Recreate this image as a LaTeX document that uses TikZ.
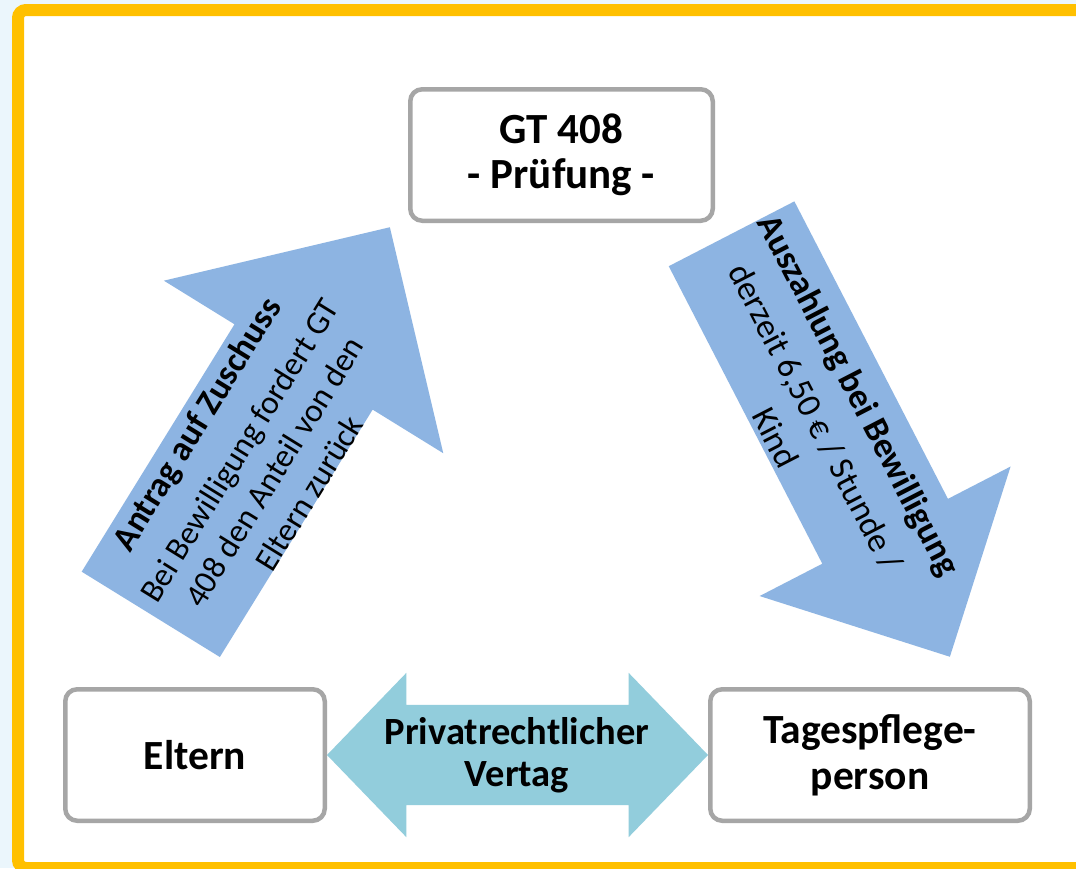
\documentclass[tikz,border=0pt]{standalone}
\usepackage{fontspec}
\setmainfont{Carlito}
\usepackage{tikz}
\usetikzlibrary{shapes.arrows}

\definecolor{framegelb}{HTML}{FFC000}
\definecolor{hintergrund}{HTML}{EBF6FC}
\definecolor{boxgrau}{HTML}{A6A6A6}
\definecolor{pfeilblau}{HTML}{8DB4E2}
\definecolor{vertragblau}{HTML}{92CDDC}

\begin{document}
\begin{tikzpicture}[x=1pt, y=-1pt,
			box/.style={draw=boxgrau, line width=4.5pt, rounded corners=12pt, fill=white,
				align=center, inner sep=0pt, minimum height=131.5pt,
				font=\fontsize{41.5}{46}\selectfont\bfseries},
			pfeil/.style={single arrow, fill=pfeilblau, inner xsep=0pt, single arrow tip angle=90},
			pfeiltext/.style={align=center, inner sep=0pt, font=\fontsize{33}{41}\selectfont}]
		\useasboundingbox (0,0) rectangle (1076,868);
		\clip (0,0) rectangle (1076,868);
		\fill[hintergrund] (0,0) rectangle (1076,868);
		\draw[line width=12pt, framegelb, fill=white, rounded corners=8pt] (18,10) rectangle (1100,868);

		\node[box, minimum width=302.5pt, font=\fontsize{43}{45}\selectfont\bfseries] (GT) at (561.5,155) {GT 408\\- Prüfung -};
		\node[box, minimum width=259.5pt] (Eltern) at (195,755) {Eltern};
		\node[box, minimum width=319.5pt] (Tages) at (870,755) {Tagespflege-\\person};

		\node[pfeil, rotate=58.3, anchor=tip, minimum height=455pt, inner ysep=81pt,
			single arrow head extend=83pt] (Antrag) at (390,227) {};
		\node[pfeil, rotate=-62.7, anchor=tip, minimum height=476pt, inner ysep=70.5pt,
			single arrow head extend=70.5pt] (Auszahlung) at (950,657) {};
		\node[double arrow, fill=vertragblau, inner xsep=0pt, inner ysep=50pt, double arrow tip angle=92,
			minimum height=381pt, double arrow head extend=32pt]
			(Vertrag) at (517.5,755) {};

		\begin{scope}[nodes=pfeiltext]
			\node[rotate=58.3] (AntragText) at (252,458)
				{\textbf{\fontsize{35}{41}\selectfont Antrag auf Zuschuss}\\[9pt]
				Bei Bewilligung fordert GT\\ 408 den Anteil von den\\ Eltern zurück};
			\node[rotate=-62.7, font=\fontsize{34.5}{45}\selectfont] (AuszahlungText) at (818,416)
				{\textbf{\fontsize{35.5}{45}\selectfont Auszahlung bei Bewilligung}\\[4pt]
				derzeit 6,50 € / Stunde /\\ Kind};
			\node[font=\fontsize{38.5}{42}\selectfont\bfseries] (VertragText) at (517,755)
				{Privatrechtlicher\\Vertag};
		\end{scope}
\end{tikzpicture}
\end{document}
